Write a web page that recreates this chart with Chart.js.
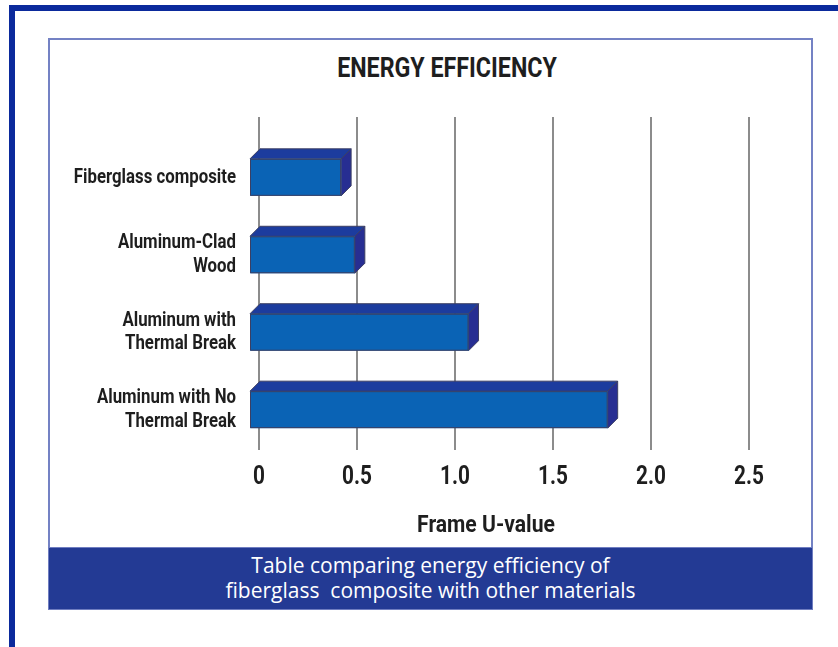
<!DOCTYPE html>
<html>
<head>
<meta charset="utf-8">
<title>Energy Efficiency</title>
<script src="https://cdn.jsdelivr.net/npm/chart.js@4.4.1/dist/chart.umd.min.js"></script>
<style>
  html, body { margin: 0; padding: 0; background: #fff; }
  body { width: 838px; height: 647px; position: relative; overflow: hidden; }
  .frame-top { position: absolute; left: 9px; top: 5px; right: 0; height: 6px; background: #0b2a9c; }
  .frame-left { position: absolute; left: 9px; top: 5px; bottom: 0; width: 6px; background: #0b2a9c; }
  .panel { position: absolute; left: 48px; top: 38px; width: 765px; height: 572px; box-sizing: border-box;
           border: 2px solid #7482c4; }
  .cond { font-family: Roboto, 'Noto Sans', sans-serif; font-weight: bold; color: #1e1e1e;
          position: absolute; text-align: center; transform-origin: center; }
  .title { left: 0; width: 894px; top: 52px; font-size: 27px; transform: scaleX(0.86); }
  .axis-title { left: 0; width: 972px; top: 510px; font-size: 24px; transform: scaleX(0.88); }
  .caption { position: absolute; left: 48px; top: 547px; width: 765px; height: 63px; box-sizing: border-box;
             background: #233a94; border: 1px solid #6f7dc0; color: #fff; text-align: center;
             font: 21px 'Open Sans', sans-serif; line-height: 25px; padding-top: 5px; }
  #chart { position: absolute; left: 0; top: 0; }
</style>
</head>
<body>
<div class="frame-top"></div>
<div class="frame-left"></div>
<div class="panel"></div>
<div class="cond title">ENERGY EFFICIENCY</div>
<canvas id="chart" width="838" height="545"></canvas>
<div class="cond axis-title">Frame U-value</div>
<div class="caption">Table comparing energy efficiency of<br>fiberglass&nbsp; composite with other materials</div>

<script>
// frame U-values per window material
var categories = [
  ['Fiberglass composite'],
  ['Aluminum-Clad', 'Wood'],
  ['Aluminum with', 'Thermal Break'],
  ['Aluminum with No', 'Thermal Break']
];
var uValues = [0.47, 0.54, 1.12, 1.83];
var tickValues = [0, 0.5, 1.0, 1.5, 2.0, 2.5];
var tickLabels = ['0', '0.5', '1.0', '1.5', '2.0', '2.5'];

var FAMILY = "Roboto, 'Noto Sans', sans-serif";
var SQUEEZE = 0.8;   // no condensed face installed, so narrow the lettering by hand
var DEPTH = 10;

// draws each bar as a box: front face pushed down-left, with top and side faces
var boxBars = {
  id: 'boxBars',
  afterDatasetsDraw: function(chart) {
    var ctx = chart.ctx;
    var meta = chart.getDatasetMeta(0);
    ctx.save();
    ctx.lineWidth = 1;
    ctx.strokeStyle = '#3c3f63';
    ctx.lineJoin = 'round';
    meta.data.forEach(function(bar) {
      var p = bar.getProps(['x', 'y', 'base', 'height'], true);
      var bx0 = p.base, bx1 = p.x;
      var by0 = p.y - p.height / 2, by1 = p.y + p.height / 2;
      var fx0 = bx0 - DEPTH, fx1 = bx1 - DEPTH;
      var fy0 = by0 + DEPTH, fy1 = by1 + DEPTH;

      // top
      ctx.beginPath();
      ctx.moveTo(fx0, fy0); ctx.lineTo(fx1, fy0); ctx.lineTo(bx1, by0); ctx.lineTo(bx0, by0);
      ctx.closePath();
      ctx.fillStyle = '#1c3c9e';
      ctx.fill(); ctx.stroke();

      // right side
      ctx.beginPath();
      ctx.moveTo(fx1, fy0); ctx.lineTo(bx1, by0); ctx.lineTo(bx1, by1); ctx.lineTo(fx1, fy1);
      ctx.closePath();
      ctx.fillStyle = '#272e92';
      ctx.fill(); ctx.stroke();

      // front
      ctx.fillStyle = '#0a63b5';
      ctx.fillRect(fx0, fy0, fx1 - fx0, fy1 - fy0);
      ctx.strokeRect(fx0 + 0.5, fy0 + 0.5, fx1 - fx0 - 1, fy1 - fy0 - 1);
    });
    ctx.restore();
  }
};

var ctx = document.getElementById('chart').getContext('2d');

// axis text goes through fillText: squeeze it horizontally around its anchor
var plainFillText = ctx.fillText;
ctx.fillText = function(text, x, y, maxWidth) {
  this.save();
  this.translate(x, y);
  this.scale(SQUEEZE, 1);
  plainFillText.call(this, text, 0, 0);
  this.restore();
};

var chart = new Chart(ctx, {
  type: 'bar',
  data: {
    datasets: [{
      data: uValues.map(function(v, i) { return { x: v, y: i }; }),
      backgroundColor: 'rgba(0,0,0,0)',
      borderWidth: 0,
      barThickness: 37
    }]
  },
  options: {
    indexAxis: 'y',
    responsive: false,
    animation: false,
    devicePixelRatio: 1,
    layout: { padding: { top: 117, right: 89, left: 0, bottom: 0 } },
    plugins: {
      legend: { display: false },
      tooltip: { enabled: false }
    },
    scales: {
      x: {
        type: 'linear',
        min: 0,
        max: 2.5,
        afterBuildTicks: function(axis) {
          axis.ticks = tickValues.map(function(v) { return { value: v }; });
        },
        afterFit: function(axis) { axis.height = 95; },
        grid: { color: '#8c8c8c', lineWidth: 2, drawTicks: false },
        border: { display: false },
        ticks: {
          padding: 12,
          color: '#1e1e1e',
          font: { family: FAMILY, size: 26, weight: 'bold' },
          callback: function(v) { return tickLabels[tickValues.indexOf(v)]; }
        }
      },
      y: {
        type: 'linear',
        reverse: true,
        offset: false,
        min: -0.65,
        max: 3.65,
        afterBuildTicks: function(axis) {
          axis.ticks = categories.map(function(c, i) { return { value: i }; });
        },
        afterFit: function(axis) { axis.width = 259; },
        grid: { display: false, drawTicks: false, offset: false },
        border: { display: false },
        ticks: {
          padding: 23,
          labelOffset: 10,
          color: '#1e1e1e',
          font: { family: FAMILY, size: 21, weight: 'bold', lineHeight: 1.12 },
          callback: function(v) { return categories[v]; }
        }
      }
    }
  },
  plugins: [boxBars]
});
</script>
</body>
</html>
